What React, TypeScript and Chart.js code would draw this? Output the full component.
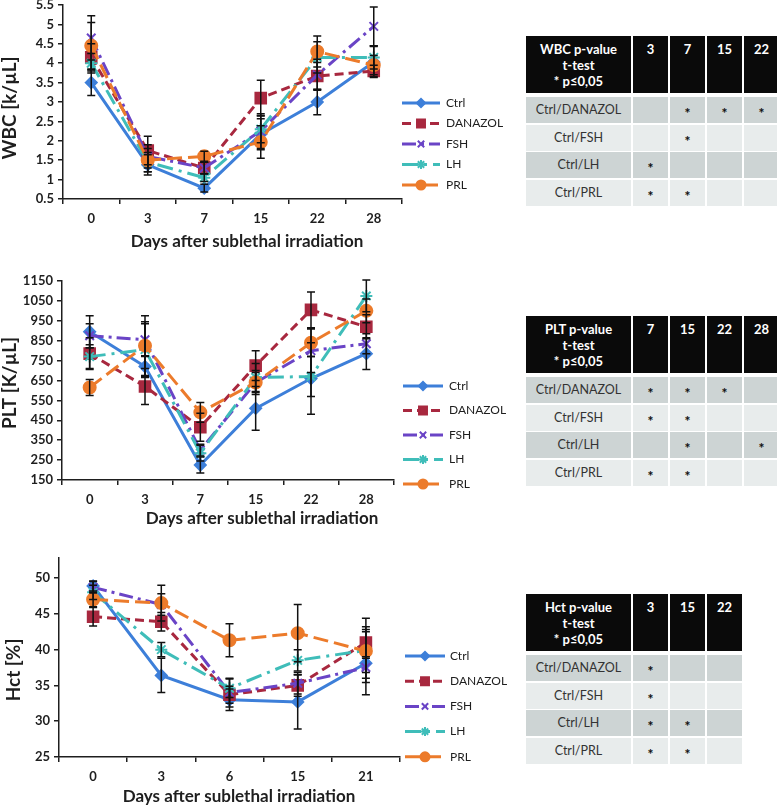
import React, { useEffect, useRef } from 'react';
import { Chart, registerables } from 'chart.js';
import { drawPoint } from 'chart.js/helpers';

Chart.register(...registerables);

const FONT = 'Lato, "Open Sans", sans-serif';
const AXIS = '#1e1e1e';
const TEXT = '#1e1e1e';

const SERIES = ['Ctrl', 'DANAZOL', 'FSH', 'LH', 'PRL'];

// ---------- WBC ----------
const WBC_DAYS = ['0', '3', '7', '15', '22', '28'];
const WBC_CTRL = [3.5, 1.38, 0.78, 2.17, 3.0, 4.03];
const WBC_CTRL_ERR = [0.33, 0.26, 0.1, 0.4, 0.33, 0.4];
const WBC_DANAZOL = [4.15, 1.75, 1.3, 3.1, 3.67, 3.8];
const WBC_DANAZOL_ERR = [0.35, 0.37, 0.15, 0.46, 0.35, 0.15];
const WBC_FSH = [4.65, 1.6, 1.3, 2.25, 3.7, 4.95];
const WBC_FSH_ERR = [0.57, 0.3, 0.15, 0.45, 0.4, 0.5];
const WBC_LH = [4.0, 1.45, 1.05, 2.3, 4.15, 4.15];
const WBC_LH_ERR = [0.25, 0.25, 0.1, 0.35, 0.4, 0.3];
const WBC_PRL = [4.45, 1.5, 1.6, 1.97, 4.3, 3.95];
const WBC_PRL_ERR = [0.6, 0.3, 0.13, 0.42, 0.4, 0.25];

// ---------- PLT ----------
const PLT_DAYS = ['0', '3', '7', '15', '22', '28'];
const PLT_CTRL = [895, 720, 225, 510, 660, 785];
const PLT_CTRL_ERR = [80, 50, 40, 110, 180, 80];
const PLT_DANAZOL = [785, 620, 415, 725, 1005, 920];
const PLT_DANAZOL_ERR = [80, 90, 70, 75, 90, 60];
const PLT_FSH = [875, 855, 300, 640, 800, 835];
const PLT_FSH_ERR = [60, 80, 30, 60, 110, 50];
const PLT_LH = [770, 805, 285, 665, 670, 1075];
const PLT_LH_ERR = [60, 140, 40, 70, 100, 80];
const PLT_PRL = [615, 825, 490, 640, 840, 1000];
const PLT_PRL_ERR = [40, 150, 50, 50, 70, 60];

// ---------- Hct ----------
const HCT_DAYS = ['0', '3', '6', '15', '21'];
const HCT_CTRL = [48.9, 36.4, 33.0, 32.7, 38.1];
const HCT_CTRL_ERR = [0.7, 2.4, 1.5, 3.8, 4.4];
const HCT_DANAZOL = [44.6, 43.9, 33.7, 35.0, 41.0];
const HCT_DANAZOL_ERR = [1.3, 1.3, 1.2, 1.5, 2.2];
const HCT_FSH = [48.7, 46.3, 34.0, 35.3, 37.5];
const HCT_FSH_ERR = [0.8, 1.5, 2.0, 1.5, 1.5];
const HCT_LH = [48.0, 40.0, 34.6, 38.5, 39.9];
const HCT_LH_ERR = [1.0, 1.0, 1.3, 1.5, 4.5];
const HCT_PRL = [47.0, 46.5, 41.3, 42.3, 39.8];
const HCT_PRL_ERR = [1.0, 2.5, 2.3, 4.0, 3.0];

// ---------- Tables ----------
const TABLE_ROWS = ['Ctrl/DANAZOL', 'Ctrl/FSH', 'Ctrl/LH', 'Ctrl/PRL'];
const WBC_TABLE_COLS = ['3', '7', '15', '22'];
const WBC_SIG = [[0, 1, 1, 1], [0, 1, 0, 0], [1, 0, 0, 0], [1, 1, 0, 0]];
const PLT_TABLE_COLS = ['7', '15', '22', '28'];
const PLT_SIG = [[1, 1, 1, 0], [1, 1, 0, 0], [0, 1, 0, 1], [1, 1, 0, 0]];
const HCT_TABLE_COLS = ['3', '15', '22'];
const HCT_SIG = [[1, 0, 0], [1, 0, 0], [1, 1, 0], [1, 1, 0]];

const STYLES = [
  { color: '#3d7fd9', dash: [], point: 'rectRot', radius: 5.5 },
  { color: '#a8283f', dash: [9, 5], point: 'rect', radius: 7.5 },
  { color: '#6a44c6', dash: [14, 5, 3, 5], point: 'crossRot', radius: 6 },
  { color: '#3fbdb9', dash: [16, 6, 3, 6], point: 'star', radius: 6 },
  { color: '#ec7b2b', dash: [15, 6], point: 'circle', radius: 6 },
];

const PANELS: any[] = [
  {
    top: -10, height: 270, width: 522,
    area: { left: 63, top: 5, right: 402, bottom: 199 },
    labels: WBC_DAYS,
    series: [WBC_CTRL, WBC_DANAZOL, WBC_FSH, WBC_LH, WBC_PRL],
    errors: [WBC_CTRL_ERR, WBC_DANAZOL_ERR, WBC_FSH_ERR, WBC_LH_ERR, WBC_PRL_ERR],
    yMin: 0.5, yMax: 5.5, yStep: 0.5,
    yTitle: 'WBC [k/µL]', yTitleX: 10, yTitleY: 108,
    xTitle: 'Days after sublethal irradiation', xTitleX: 247, xTitleBase: 247,
    legend: { x1: 402, x2: 440, textX: 446, y0: 103, dy: 20.5 },
  },
  {
    top: 262, height: 270, width: 522,
    area: { left: 62, top: 281, right: 394, bottom: 480 },
    labels: PLT_DAYS,
    series: [PLT_CTRL, PLT_DANAZOL, PLT_FSH, PLT_LH, PLT_PRL],
    errors: [PLT_CTRL_ERR, PLT_DANAZOL_ERR, PLT_FSH_ERR, PLT_LH_ERR, PLT_PRL_ERR],
    yMin: 150, yMax: 1150, yStep: 100,
    yTitle: 'PLT [K/µL]', yTitleX: 10, yTitleY: 383,
    xTitle: 'Days after sublethal irradiation', xTitleX: 262, xTitleBase: 524,
    legend: { x1: 403, x2: 443, textX: 449, y0: 386, dy: 24.5 },
  },
  {
    top: 535, height: 270, width: 522,
    area: { left: 59, top: 558, right: 400, bottom: 757 },
    labels: HCT_DAYS,
    series: [HCT_CTRL, HCT_DANAZOL, HCT_FSH, HCT_LH, HCT_PRL],
    errors: [HCT_CTRL_ERR, HCT_DANAZOL_ERR, HCT_FSH_ERR, HCT_LH_ERR, HCT_PRL_ERR],
    yMin: 25, yMax: 52.8, yStep: 5,
    yTitle: 'Hct [%]', yTitleX: 14, yTitleY: 670,
    xTitle: 'Days after sublethal irradiation', xTitleX: 239, xTitleBase: 802,
    legend: { x1: 405, x2: 445, textX: 450, y0: 656, dy: 25.2 },
  },
];

const TABLES: any[] = [
  { left: 526, top: 36, name: 'WBC', cols: WBC_TABLE_COLS, sig: WBC_SIG },
  { left: 526, top: 316, name: 'PLT', cols: PLT_TABLE_COLS, sig: PLT_SIG },
  { left: 526, top: 594, name: 'Hct', cols: HCT_TABLE_COLS, sig: HCT_SIG },
];

function ChartPanel({ p }: { p: any }) {
  const ref = useRef<HTMLCanvasElement>(null);
  useEffect(() => {
    const off = p.top;
    const areaTop = p.area.top - off;
    const areaBottom = p.area.bottom - off;

    const errorBars = {
      id: 'errorBars',
      afterDatasetsDraw(chart: any) {
        const ctx = chart.ctx;
        const ys = chart.scales.y;
        ctx.save();
        ctx.strokeStyle = '#111';
        ctx.lineWidth = 1.5;
        ctx.setLineDash([]);
        chart.data.datasets.forEach((ds: any, di: number) => {
          const meta = chart.getDatasetMeta(di);
          const errs = ds.errorBars;
          if (!errs) return;
          meta.data.forEach((pt: any, i: number) => {
            const v = ds.data[i];
            const e = errs[i];
            const x = pt.x;
            const yt = ys.getPixelForValue(v + e);
            const yb = ys.getPixelForValue(v - e);
            ctx.beginPath();
            ctx.moveTo(x, yt); ctx.lineTo(x, yb);
            ctx.moveTo(x - 4, yt); ctx.lineTo(x + 4, yt);
            ctx.moveTo(x - 4, yb); ctx.lineTo(x + 4, yb);
            ctx.stroke();
          });
        });
        ctx.restore();
      },
    };

    const sideLegend = {
      id: 'sideLegend',
      afterDraw(chart: any) {
        const ctx = chart.ctx;
        const L = p.legend;
        ctx.save();
        chart.data.datasets.forEach((ds: any, i: number) => {
          const y = L.y0 + i * L.dy - off;
          ctx.strokeStyle = ds.borderColor;
          ctx.lineWidth = 3;
          ctx.setLineDash(ds.borderDash || []);
          ctx.beginPath();
          ctx.moveTo(L.x1, y); ctx.lineTo(L.x2, y);
          ctx.stroke();
          ctx.setLineDash([]);
          ctx.fillStyle = ds.pointBackgroundColor;
          ctx.strokeStyle = ds.pointBorderColor;
          ctx.lineWidth = ds.pointBorderWidth;
          drawPoint(ctx, { pointStyle: ds.pointStyle, rotation: 0, radius: ds.pointRadius * 0.75, borderWidth: ds.pointBorderWidth } as any, (L.x1 + L.x2) / 2, y);
          ctx.fillStyle = TEXT;
          ctx.font = `12px ${FONT}`;
          ctx.textAlign = 'left';
          ctx.textBaseline = 'middle';
          ctx.fillText(ds.label, L.textX, y);
        });
        ctx.restore();
      },
    };

    const axisTitles = {
      id: 'axisTitles',
      afterDraw(chart: any) {
        const ctx = chart.ctx;
        ctx.save();
        ctx.fillStyle = TEXT;
        ctx.font = `bold 17px ${FONT}`;
        ctx.textAlign = 'center';
        ctx.textBaseline = 'alphabetic';
        ctx.fillText(p.xTitle, p.xTitleX, p.xTitleBase - off);
        ctx.translate(p.yTitleX, p.yTitleY - off);
        ctx.rotate(-Math.PI / 2);
        ctx.font = `bold 19px ${FONT}`;
        ctx.textBaseline = 'middle';
        ctx.fillText(p.yTitle, 0, 0);
        ctx.restore();
      },
    };

    const tickFont = { family: FONT, size: 13, weight: 'bold' as const };

    const chart = new Chart(ref.current as HTMLCanvasElement, {
      type: 'line',
      data: {
        labels: p.labels,
        datasets: SERIES.map((name, i) => ({
          label: name,
          data: p.series[i],
          errorBars: p.errors[i],
          borderColor: STYLES[i].color,
          backgroundColor: STYLES[i].color,
          borderDash: STYLES[i].dash,
          borderWidth: 3,
          pointStyle: STYLES[i].point,
          pointRadius: STYLES[i].radius,
          pointBorderWidth: 2,
          pointBackgroundColor: STYLES[i].color,
          pointBorderColor: STYLES[i].color,
          fill: false,
          tension: 0,
          order: SERIES.length - i,
        })) as any,
      },
      options: {
        responsive: false,
        animation: false,
        layout: { padding: { left: 0, top: areaTop, right: p.width - p.area.right, bottom: 0 } },
        plugins: { legend: { display: false }, tooltip: { enabled: false } },
        scales: {
          x: {
            type: 'category',
            offset: true,
            grid: { offset: true, drawOnChartArea: false, drawTicks: true, tickLength: 5, color: AXIS, lineWidth: 1.5 },
            border: { display: true, color: AXIS, width: 1.5 },
            ticks: { font: tickFont, color: TEXT, padding: 7, maxRotation: 0, autoSkip: false },
            afterFit: (s: any) => { s.height = p.height - areaBottom; },
          },
          y: {
            type: 'linear',
            min: p.yMin,
            max: p.yMax,
            grid: { drawOnChartArea: false, drawTicks: true, tickLength: 5, color: AXIS, lineWidth: 1.5 },
            border: { display: true, color: AXIS, width: 1.5 },
            ticks: {
              stepSize: p.yStep,
              includeBounds: false,
              font: tickFont,
              color: TEXT,
              padding: 4,
              callback: (v: any) => String(v),
            },
            afterFit: (s: any) => { s.width = p.area.left; },
          },
        },
      } as any,
      plugins: [errorBars, sideLegend, axisTitles],
    });
    return () => chart.destroy();
  }, []);
  return (
    <canvas
      ref={ref}
      width={p.width}
      height={p.height}
      style={{ position: 'absolute', left: 0, top: p.top, width: p.width, height: p.height }}
    />
  );
}

function SigTable({ t }: { t: any }) {
  const firstW = 105;
  const colW = 35;
  const gap = 2;
  const cellText: any = { fontFamily: FONT, fontSize: 12.5, color: '#333', textAlign: 'center', boxSizing: 'border-box' };
  return (
    <div style={{ position: 'absolute', left: t.left, top: t.top }}>
      <div style={{ display: 'flex', gap, height: 57 }}>
        <div style={{ ...cellText, width: firstW, background: '#0a0a0a', color: '#fff', fontWeight: 700, fontSize: 13, lineHeight: '16px', paddingTop: 5 }}>
          <div>{t.name} p-value</div>
          <div>t-test</div>
          <div>* p≤0,05</div>
        </div>
        {t.cols.map((c: string, i: number) => (
          <div key={i} style={{ ...cellText, width: colW, background: '#0a0a0a', color: '#fff', fontWeight: 700, fontSize: 13, lineHeight: '16px', paddingTop: 5 }}>{c}</div>
        ))}
      </div>
      {TABLE_ROWS.map((r, ri) => {
        const bg = ri % 2 === 0 ? '#cdd4d4' : '#e8ecec';
        return (
          <div key={ri} style={{ display: 'flex', gap, height: 26, marginTop: ri === 0 ? 4 : 1.5 }}>
            <div style={{ ...cellText, width: firstW, background: bg, lineHeight: '26px' }}>{r}</div>
            {t.sig[ri].map((s: number, ci: number) => (
              <div key={ci} style={{ ...cellText, width: colW, background: bg, lineHeight: '26px', fontWeight: 900, fontSize: 14, color: '#111', paddingTop: 3 }}>{s ? '*' : ''}</div>
            ))}
          </div>
        );
      })}
    </div>
  );
}

export default function App() {
  return (
    <div style={{ position: 'absolute', left: 0, top: 0, width: 777, height: 805, background: '#fff', overflow: 'hidden' }}>
      {PANELS.map((p, i) => <ChartPanel key={i} p={p} />)}
      {TABLES.map((t, i) => <SigTable key={i} t={t} />)}
    </div>
  );
}
